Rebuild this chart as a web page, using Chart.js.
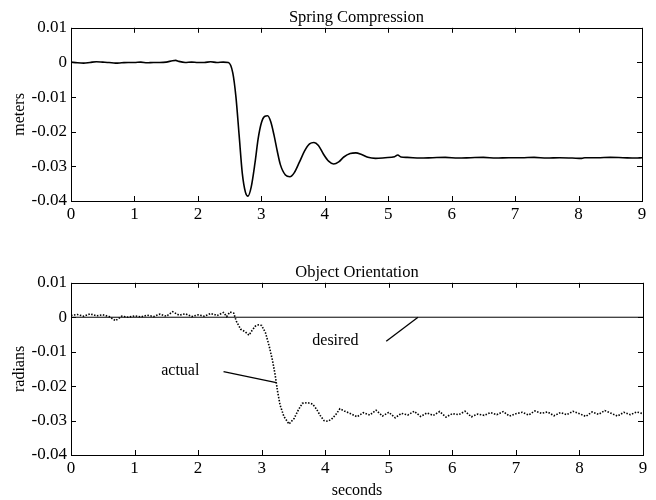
<!DOCTYPE html>
<html>
<head>
<meta charset="utf-8">
<script src="https://cdn.jsdelivr.net/npm/chart.js@4/dist/chart.umd.min.js"></script>
<style>
  body { margin: 0; background: #fff; }
  canvas { position: absolute; left: 0; }
  #springChart { top: 0; }
  #orientChart { top: 250px; }
</style>
</head>
<body>
<canvas id="springChart" width="656" height="250"></canvas>
<canvas id="orientChart" width="656" height="250"></canvas>
<script>
// 축 눈금
const xTicks = [0, 1, 2, 3, 4, 5, 6, 7, 8, 9];
const xTickLabels = ['0', '1', '2', '3', '4', '5', '6', '7', '8', '9'];
const yTicks = [-0.04, -0.03, -0.02, -0.01, 0, 0.01];
const yTickLabels = ['-0.04', '-0.03', '-0.02', '-0.01', '0', '0.01'];

// 위 그래프: Spring Compression (meters)
const springTime = [
  0, 0.1, 0.2, 0.3, 0.4, 0.5, 0.6, 0.7, 0.8, 0.9, 1.0, 1.1, 1.2, 1.3, 1.4, 1.5, 1.6, 1.65, 1.7, 1.8,
  1.9, 2.0, 2.1, 2.2, 2.3, 2.4, 2.48, 2.55, 2.6, 2.65, 2.7, 2.75, 2.79, 2.84, 2.9, 2.95, 3.0, 3.05,
  3.1, 3.15, 3.2, 3.25, 3.3, 3.38, 3.45, 3.52, 3.6, 3.68, 3.76, 3.83, 3.9, 3.98, 4.06, 4.14, 4.22,
  4.3, 4.4, 4.49, 4.58, 4.68, 4.8, 4.95, 5.1, 5.15, 5.2, 5.3, 5.5, 5.7, 5.9, 6.1, 6.3, 6.5, 6.7,
  6.9, 7.1, 7.3, 7.5, 7.7, 7.9, 8.05, 8.1, 8.3, 8.5, 8.7, 8.9, 9.0
];
const springComp = [
  0.0001, -0.0001, -0.0002, 0.0000, 0.0002, 0.0001, 0.0000, -0.0002, -0.0001, 0.0000, 0.0000, 0.0001,
  -0.0001, 0.0000, 0.0000, 0.0001, 0.0005, 0.0006, 0.0003, 0.0000, 0.0001, 0.0000, 0.0000, 0.0002,
  0.0000, 0.0001, 0.0000, -0.003, -0.010, -0.021, -0.032, -0.0375, -0.0386, -0.036, -0.029, -0.022,
  -0.0175, -0.0156, -0.0154, -0.0172, -0.021, -0.0255, -0.0295, -0.0325, -0.0330, -0.0318, -0.0288,
  -0.0256, -0.0235, -0.0231, -0.0240, -0.0265, -0.0285, -0.0293, -0.0287, -0.0273, -0.0263, -0.0261,
  -0.0266, -0.0274, -0.0277, -0.0275, -0.0272, -0.0267, -0.0273, -0.0274, -0.0276, -0.0275, -0.0274,
  -0.0276, -0.0275, -0.0274, -0.0276, -0.0275, -0.0275, -0.0274, -0.0276, -0.0275, -0.0276, -0.0277,
  -0.0275, -0.0275, -0.0274, -0.0275, -0.0276, -0.0275
];

// 아래 그래프: Object Orientation (radians)
const orientTime = [
  0.0, 0.1, 0.2, 0.3, 0.4, 0.5, 0.6, 0.7, 0.8, 0.9, 1.0, 1.1, 1.2, 1.3, 1.4, 1.5, 1.6, 1.7, 1.8, 1.9,
  2.0, 2.1, 2.2, 2.3, 2.4, 2.45, 2.5, 2.56, 2.6, 2.67, 2.74, 2.8, 2.85, 2.9, 2.95, 3.0, 3.06, 3.12,
  3.17, 3.21, 3.25, 3.29, 3.35, 3.43, 3.51, 3.58, 3.64, 3.72, 3.8, 3.86, 3.92, 3.98, 4.04, 4.1, 4.17,
  4.23, 4.3, 4.4, 4.5, 4.6, 4.7, 4.8, 4.9, 5.0, 5.1, 5.2, 5.3, 5.4, 5.5, 5.6, 5.7, 5.8, 5.9, 6.0,
  6.1, 6.2, 6.3, 6.4, 6.5, 6.6, 6.7, 6.8, 6.9, 7.0, 7.1, 7.2, 7.3, 7.4, 7.5, 7.6, 7.7, 7.8, 7.9,
  8.0, 8.1, 8.2, 8.3, 8.4, 8.5, 8.6, 8.7, 8.8, 8.9, 9.0
];
const orientActual = [
  0.0005, 0.0008, 0.0003, 0.0010, 0.0004, 0.0007, 0.0002, -0.0010, 0.0003, 0.0000, 0.0004, 0.0001,
  0.0006, 0.0002, 0.0009, 0.0003, 0.0016, 0.0006, 0.0010, 0.0002, 0.0007, 0.0003, 0.0011, 0.0005,
  0.0014, 0.0002, 0.0015, 0.0012, -0.0011, -0.0035, -0.0042, -0.0052, -0.0038, -0.0026, -0.0022,
  -0.0024, -0.0045, -0.0085, -0.0125, -0.0165, -0.0215, -0.0255, -0.0288, -0.0310, -0.0294, -0.0268,
  -0.0250, -0.0248, -0.0252, -0.0266, -0.0285, -0.0300, -0.0302, -0.0296, -0.0282, -0.0266, -0.0272,
  -0.0280, -0.0289, -0.0277, -0.0284, -0.0270, -0.0287, -0.0276, -0.0292, -0.0279, -0.0284, -0.0273,
  -0.0288, -0.0278, -0.0285, -0.0274, -0.0290, -0.0280, -0.0283, -0.0273, -0.0289, -0.0281, -0.0285,
  -0.0277, -0.0283, -0.0274, -0.0287, -0.0280, -0.0276, -0.0284, -0.0272, -0.0279, -0.0275, -0.0286,
  -0.0277, -0.0283, -0.0273, -0.0280, -0.0288, -0.0275, -0.0282, -0.0271, -0.0279, -0.0287, -0.0276,
  -0.0283, -0.0275, -0.0280
];
const desiredTime = [0, 9];
const desiredValue = [0, 0];

// 주석 (라벨과 지시선)
const noteText = ['actual', 'desired'];
const noteX = [1.72, 4.16];
const noteY = [-0.0155, -0.0068];
const actualPointerX = [2.40, 3.23];
const actualPointerY = [-0.0158, -0.0190];
const desiredPointerX = [4.96, 5.46];
const desiredPointerY = [-0.0070, 0.0000];

const toPoints = (xs, ys) => xs.map((x, i) => ({ x: x, y: ys[i] }));

Chart.defaults.font.family = '"Liberation Serif", "Times New Roman", serif';
Chart.defaults.font.size = 16;
Chart.defaults.color = '#000';

// 프레임과 안쪽 눈금
const frameTicks = {
  id: 'frameTicks',
  afterDraw(chart) {
    const { ctx, chartArea: a, scales: { x, y } } = chart;
    ctx.save();
    ctx.strokeStyle = '#000';
    ctx.lineWidth = 1;
    ctx.strokeRect(Math.round(a.left) + 0.5, Math.round(a.top) + 0.5, Math.round(a.width), Math.round(a.height));
    ctx.beginPath();
    x.ticks.forEach(t => {
      const px = Math.round(x.getPixelForValue(t.value)) + 0.5;
      ctx.moveTo(px, a.top); ctx.lineTo(px, a.top + 5);
      ctx.moveTo(px, a.bottom); ctx.lineTo(px, a.bottom - 5);
    });
    y.ticks.forEach(t => {
      const py = Math.round(y.getPixelForValue(t.value)) + 0.5;
      ctx.moveTo(a.left, py); ctx.lineTo(a.left + 5, py);
      ctx.moveTo(a.right, py); ctx.lineTo(a.right - 5, py);
    });
    ctx.stroke();
    ctx.restore();
  }
};

const noteLabels = {
  id: 'noteLabels',
  afterDatasetsDraw(chart) {
    const { ctx, scales: { x, y } } = chart;
    ctx.save();
    ctx.fillStyle = '#000';
    ctx.font = '16px "Liberation Serif", serif';
    ctx.textAlign = 'center';
    ctx.textBaseline = 'middle';
    noteText.forEach((txt, i) => {
      ctx.fillText(txt, x.getPixelForValue(noteX[i]), y.getPixelForValue(noteY[i]));
    });
    ctx.restore();
  }
};

function makeScales(xTitle, yTitle, xHeight) {
  return {
    x: {
      type: 'linear', min: 0, max: 9,
      afterBuildTicks: s => { s.ticks = xTicks.map(v => ({ value: v })); },
      afterFit: s => { s.height = xHeight; },
      grid: { display: false, drawTicks: false },
      border: { display: false },
      ticks: { padding: 3, maxRotation: 0, autoSkip: false, font: { size: 17 },
        callback: (v, i) => xTickLabels[i] },
      title: { display: !!xTitle, text: xTitle, padding: { top: 0, bottom: 0 } }
    },
    y: {
      type: 'linear', min: -0.04, max: 0.01,
      afterBuildTicks: s => { s.ticks = yTicks.map(v => ({ value: v })); },
      afterFit: s => { s.width = 71; },
      grid: { display: false, drawTicks: false },
      border: { display: false },
      ticks: { padding: 4, autoSkip: false, font: { size: 17 },
        callback: (v, i) => yTickLabels[i] },
      title: { display: true, text: yTitle, padding: { top: 10, bottom: 0 } }
    }
  };
}

new Chart(document.getElementById('springChart'), {
  type: 'line',
  data: {
    datasets: [{
      data: toPoints(springTime, springComp),
      borderColor: '#000',
      borderWidth: 1.6,
      pointRadius: 0,
      cubicInterpolationMode: 'monotone'
    }]
  },
  options: {
    responsive: false,
    animation: false,
    devicePixelRatio: 1,
    layout: { padding: { left: 0, right: 14, top: 0, bottom: 0 } },
    plugins: {
      legend: { display: false },
      tooltip: { enabled: false },
      title: { display: true, text: 'Spring Compression', fullSize: false,
        font: { size: 16.5, weight: 'normal' }, padding: { top: 8, bottom: 0 } }
    },
    scales: makeScales('', 'meters', 49)
  },
  plugins: [frameTicks]
});

new Chart(document.getElementById('orientChart'), {
  type: 'line',
  data: {
    datasets: [
      {
        data: toPoints(desiredTime, desiredValue),
        borderColor: '#000',
        borderWidth: 1,
        pointRadius: 0
      },
      {
        data: toPoints(orientTime, orientActual),
        borderColor: '#000',
        borderWidth: 1.6,
        borderDash: [1.5, 1.5],
        pointRadius: 0,
        tension: 0
      },
      {
        data: toPoints(actualPointerX, actualPointerY),
        borderColor: '#000',
        borderWidth: 1.3,
        pointRadius: 0
      },
      {
        data: toPoints(desiredPointerX, desiredPointerY),
        borderColor: '#000',
        borderWidth: 1.3,
        pointRadius: 0
      }
    ]
  },
  options: {
    responsive: false,
    animation: false,
    devicePixelRatio: 1,
    layout: { padding: { left: 0, right: 13, top: 0, bottom: 0 } },
    plugins: {
      legend: { display: false },
      tooltip: { enabled: false },
      title: { display: true, text: 'Object Orientation', fullSize: false,
        font: { size: 16.5, weight: 'normal' }, padding: { top: 13, bottom: 0 } }
    },
    scales: makeScales('seconds', 'radians', 45)
  },
  plugins: [frameTicks, noteLabels]
});
</script>
</body>
</html>
